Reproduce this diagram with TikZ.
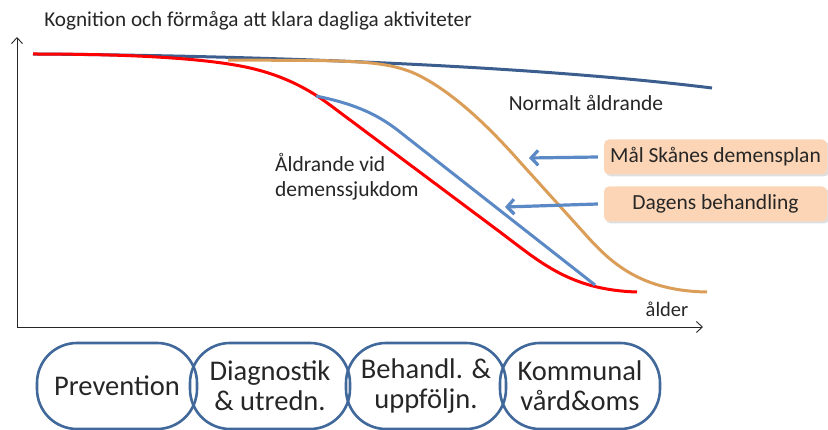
\documentclass[tikz,border=0pt]{standalone}
\usepackage{fontspec}
\setmainfont{Carlito}
\usetikzlibrary{arrows.meta,shadows}

\definecolor{normblue}{HTML}{3B5E8E}
\definecolor{planorange}{HTML}{DB9E58}
\definecolor{todayblue}{HTML}{5A89C6}
\definecolor{boxpeach}{HTML}{FBD5B5}
\definecolor{stageblue}{HTML}{41689A}
\definecolor{txt}{HTML}{262626}

\tikzset{
  curve/.style={line width=3pt},
  axis/.style={line width=0.9pt, black!85, -{Straight Barb[length=6pt,width=11pt]}},
  pointer/.style={line width=3.2pt, todayblue, -{Straight Barb[length=7pt,width=15pt]}},
  notebox/.style={fill=boxpeach, rounded corners=5pt, minimum width=223pt,
    minimum height=35pt, inner sep=0pt, text=txt,
    drop shadow={shadow xshift=2pt, shadow yshift=-2pt, opacity=0.25}},
  stage/.style={draw=stageblue, line width=2.6pt, rounded corners=40pt,
    minimum width=160pt, minimum height=86pt, align=center, text=txt,
    font=\fontsize{28.5}{30}\selectfont},
  lbl/.style={text=txt, font=\fontsize{21.5}{25}\selectfont, inner sep=0pt}
}

\begin{document}
\begin{tikzpicture}[x=1pt, y=-1pt]
  \useasboundingbox (0,0) rectangle (828,430);

  % axes
  \coordinate (origin) at (17,327);
  \coordinate (ytip) at (17,37);
  \coordinate (xtip) at (703,327);
  \draw[axis] (origin) -- (ytip);
  \draw[axis] (origin) -- (xtip);

  \node[lbl, font=\fontsize{21.2}{24}\selectfont] (title) at (258,21) {Kognition och förmåga att klara dagliga aktiviteter};
  \node[lbl, font=\fontsize{20.5}{24}\selectfont] (alder) at (667,309) {ålder};

  % curves
  \draw[curve, normblue] (33,54) .. controls (300,56) and (550,68) .. (712,88);
  \draw[curve, planorange] (228,60) .. controls (340,61) and (385,58) .. (420,76)
     .. controls (455,94) and (490,128) .. (520,162) -- (585,234)
     .. controls (610,262) and (640,291) .. (707,292);
  \draw[curve, red] (33,54) .. controls (150,54) and (215,60) .. (250,68)
     .. controls (285,76) and (310,90) .. (330,105) -- (500,232)
     .. controls (540,262) and (570,290) .. (637,292);
  \draw[curve, todayblue] (316,96) .. controls (350,103) and (375,112) .. (400,132) -- (595,285);

  \node[lbl] (normal) at (586,103) {Normalt åldrande};
  \node[lbl, align=left, anchor=west] (dement) at (275,177) {Åldrande vid\\demenssjukdom};

  % goal boxes
  \node[notebox, lbl] (planbox) at (715.5,157) {Mål Skånes demensplan};
  \node[notebox, lbl] (todaybox) at (715.5,204) {Dagens behandling};
  \coordinate (plantip) at (529,158);
  \coordinate (todaytip) at (505,207);
  \draw[pointer] ([xshift=-6pt]planbox.west) -- (plantip);
  \draw[pointer] ([xshift=-6pt]todaybox.west) -- (todaytip);

  % care stages
  \node[stage] (prev) at (117,386) {Prevention};
  \node[stage] (diag) at (270,386) {Diagnostik\\\& utredn.};
  \node[stage] (treat) at (426,386) {Behandl. \&\\uppföljn.};
  \node[stage] (munic) at (580,386) {Kommunal\\vård\&oms};
\end{tikzpicture}
\end{document}
